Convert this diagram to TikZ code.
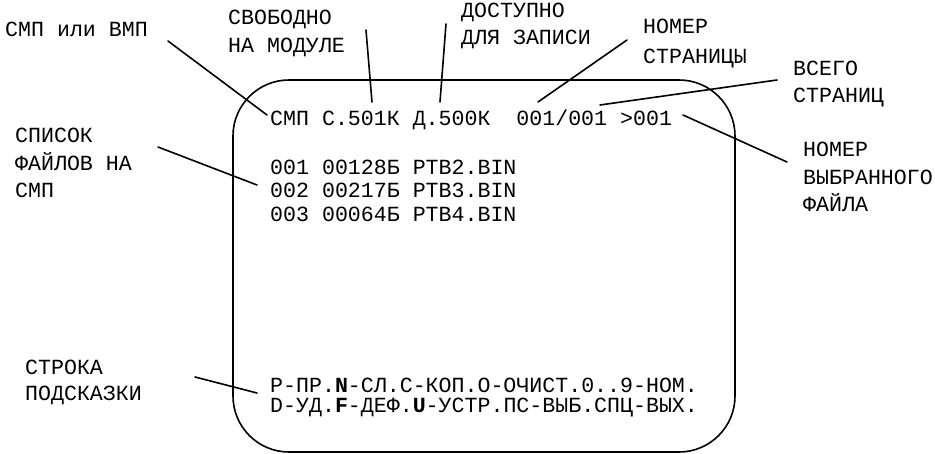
\documentclass[tikz,border=0pt]{standalone}
\usepackage{fontspec}
\setmainfont{Liberation Mono}
\begin{document}
\begin{tikzpicture}[x=1pt,y=-1pt,
  txt/.style={anchor=base west, inner sep=0pt, font=\fontsize{21.6}{25}\selectfont},
  ln/.style={line width=1.6pt, line cap=round}]
\useasboundingbox (0,0) rectangle (935,454);
% screen frame
\draw[ln, rounded corners=56pt] (233,80) rectangle (735,452);
% screen text
\node[txt] (hdr) at (270,126) {СМП С.501К Д.500К\ \ 001/001 >001};
\node[txt] (f1) at (270,175) {001 00128Б PTB2.BIN};
\node[txt] (f2) at (270,198) {002 00217Б PTB3.BIN};
\node[txt] (f3) at (270,222) {003 00064Б PTB4.BIN};
\node[txt] (h1) at (270,393) {P-ПР.\textbf{N}-СЛ.С-КОП.О-ОЧИСТ.0..9-НОМ.};
\node[txt] (h2) at (270,413) {D-УД.\textbf{F}-ДЕФ.\textbf{U}-УСТР.ПС-ВЫБ.СПЦ-ВЫХ.};
% labels
\node[txt] (lsmp) at (5,37) {СМП или ВМП};
\node[txt] (lfree1) at (228,25) {СВОБОДНО};
\node[txt] (lfree2) at (228,53) {НА МОДУЛЕ};
\node[txt] (lav1) at (461,18) {ДОСТУПНО};
\node[txt] (lav2) at (461,45) {ДЛЯ ЗАПИСИ};
\node[txt] (lpg1) at (643,34) {НОМЕР};
\node[txt] (lpg2) at (643,64) {СТРАНИЦЫ};
\node[txt] (ltot1) at (793,76) {ВСЕГО};
\node[txt] (ltot2) at (793,103) {СТРАНИЦ};
\node[txt] (lsel1) at (803,157) {НОМЕР};
\node[txt] (lsel2) at (803,185) {ВЫБРАННОГО};
\node[txt] (lsel3) at (803,212) {ФАЙЛА};
\node[txt] (llist1) at (15,143) {СПИСОК};
\node[txt] (llist2) at (15,171) {ФАЙЛОВ НА};
\node[txt] (llist3) at (15,198) {СМП};
\node[txt] (lhint1) at (25,375) {СТРОКА};
\node[txt] (lhint2) at (25,400) {ПОДСКАЗКИ};
% connector end points
\coordinate (a1) at (168,41);  \coordinate (a2) at (267,115);
\coordinate (b1) at (366,30);  \coordinate (b2) at (372,102);
\coordinate (c1) at (446,24);  \coordinate (c2) at (440,102);
\coordinate (d1) at (627,40);  \coordinate (d2) at (538,102);
\coordinate (e1) at (777,80);  \coordinate (e2) at (600,105);
\coordinate (g1) at (787,162); \coordinate (g2) at (683,115);
\coordinate (k1) at (158,147); \coordinate (k2) at (257,185);
\coordinate (m1) at (195,377); \coordinate (m2) at (257,393);
\draw[ln] (a1) -- (a2);
\draw[ln] (b1) -- (b2);
\draw[ln] (c1) -- (c2);
\draw[ln] (d1) -- (d2);
\draw[ln] (e1) -- (e2);
\draw[ln] (g1) -- (g2);
\draw[ln] (k1) -- (k2);
\draw[ln] (m1) -- (m2);
\end{tikzpicture}
\end{document}
